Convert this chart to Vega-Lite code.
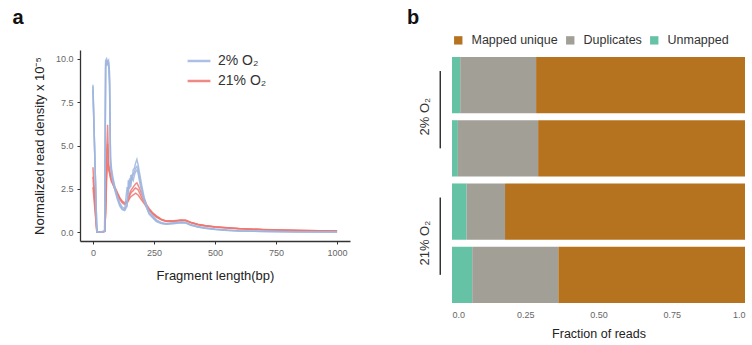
{
"$schema": "https://vega.github.io/schema/vega-lite/v6.json",
"padding": {"left": 12, "top": 8, "right": 5, "bottom": 5},
"spacing": 57,
"resolve": {"scale": {"color": "independent", "x": "independent", "y": "independent"}, "legend": {"color": "independent"}},
"config": {"font": "Liberation Sans", "view": {"stroke": null}, "axis": {"grid": false}},
"datasets": {
"lines": [
{"s":"r1","c":"21% O₂","x":0,"y":3.75},{"s":"r1","c":"21% O₂","x":16,"y":0.03},{"s":"r1","c":"21% O₂","x":30,"y":0.01},{"s":"r1","c":"21% O₂","x":48,"y":0.06},{"s":"r1","c":"21% O₂","x":52,"y":1.5},{"s":"r1","c":"21% O₂","x":56,"y":4.5},{"s":"r1","c":"21% O₂","x":60,"y":6.2},{"s":"r1","c":"21% O₂","x":64,"y":3.9},{"s":"r1","c":"21% O₂","x":68,"y":3.7},{"s":"r1","c":"21% O₂","x":72,"y":3.3},{"s":"r1","c":"21% O₂","x":76,"y":3.1},{"s":"r1","c":"21% O₂","x":80,"y":3.0},{"s":"r1","c":"21% O₂","x":90,"y":2.6},{"s":"r1","c":"21% O₂","x":100,"y":2.3},{"s":"r1","c":"21% O₂","x":110,"y":2.0},{"s":"r1","c":"21% O₂","x":120,"y":1.8},{"s":"r1","c":"21% O₂","x":130,"y":1.7},{"s":"r1","c":"21% O₂","x":140,"y":1.8},{"s":"r1","c":"21% O₂","x":145,"y":2.0},{"s":"r1","c":"21% O₂","x":150,"y":2.2},{"s":"r1","c":"21% O₂","x":155,"y":2.4},{"s":"r1","c":"21% O₂","x":160,"y":2.5},{"s":"r1","c":"21% O₂","x":165,"y":2.6},{"s":"r1","c":"21% O₂","x":170,"y":2.7},{"s":"r1","c":"21% O₂","x":175,"y":2.8},{"s":"r1","c":"21% O₂","x":180,"y":2.85},{"s":"r1","c":"21% O₂","x":185,"y":2.7},{"s":"r1","c":"21% O₂","x":190,"y":2.55},{"s":"r1","c":"21% O₂","x":200,"y":2.2},{"s":"r1","c":"21% O₂","x":210,"y":1.9},{"s":"r1","c":"21% O₂","x":220,"y":1.6},{"s":"r1","c":"21% O₂","x":230,"y":1.38},{"s":"r1","c":"21% O₂","x":245,"y":1.12},{"s":"r1","c":"21% O₂","x":260,"y":0.95},{"s":"r1","c":"21% O₂","x":280,"y":0.76},{"s":"r1","c":"21% O₂","x":300,"y":0.66},{"s":"r1","c":"21% O₂","x":330,"y":0.66},{"s":"r1","c":"21% O₂","x":360,"y":0.71},{"s":"r1","c":"21% O₂","x":380,"y":0.7},{"s":"r1","c":"21% O₂","x":400,"y":0.58},{"s":"r1","c":"21% O₂","x":430,"y":0.46},{"s":"r1","c":"21% O₂","x":460,"y":0.39},{"s":"r1","c":"21% O₂","x":500,"y":0.32},{"s":"r1","c":"21% O₂","x":550,"y":0.27},{"s":"r1","c":"21% O₂","x":600,"y":0.22},{"s":"r1","c":"21% O₂","x":700,"y":0.16},{"s":"r1","c":"21% O₂","x":850,"y":0.11},{"s":"r1","c":"21% O₂","x":1000,"y":0.08},
{"s":"r2","c":"21% O₂","x":0,"y":2.6},{"s":"r2","c":"21% O₂","x":16,"y":0.02},{"s":"r2","c":"21% O₂","x":30,"y":0.0},{"s":"r2","c":"21% O₂","x":48,"y":0.05},{"s":"r2","c":"21% O₂","x":52,"y":1.0},{"s":"r2","c":"21% O₂","x":56,"y":3.0},{"s":"r2","c":"21% O₂","x":60,"y":4.0},{"s":"r2","c":"21% O₂","x":64,"y":3.6},{"s":"r2","c":"21% O₂","x":68,"y":3.4},{"s":"r2","c":"21% O₂","x":72,"y":3.1},{"s":"r2","c":"21% O₂","x":76,"y":2.9},{"s":"r2","c":"21% O₂","x":80,"y":2.8},{"s":"r2","c":"21% O₂","x":90,"y":2.5},{"s":"r2","c":"21% O₂","x":100,"y":2.2},{"s":"r2","c":"21% O₂","x":110,"y":1.9},{"s":"r2","c":"21% O₂","x":120,"y":1.7},{"s":"r2","c":"21% O₂","x":130,"y":1.6},{"s":"r2","c":"21% O₂","x":140,"y":1.7},{"s":"r2","c":"21% O₂","x":145,"y":1.8},{"s":"r2","c":"21% O₂","x":150,"y":1.95},{"s":"r2","c":"21% O₂","x":155,"y":2.05},{"s":"r2","c":"21% O₂","x":160,"y":2.1},{"s":"r2","c":"21% O₂","x":165,"y":2.15},{"s":"r2","c":"21% O₂","x":170,"y":2.2},{"s":"r2","c":"21% O₂","x":175,"y":2.25},{"s":"r2","c":"21% O₂","x":180,"y":2.2},{"s":"r2","c":"21% O₂","x":185,"y":2.15},{"s":"r2","c":"21% O₂","x":190,"y":2.05},{"s":"r2","c":"21% O₂","x":200,"y":1.85},{"s":"r2","c":"21% O₂","x":210,"y":1.65},{"s":"r2","c":"21% O₂","x":220,"y":1.45},{"s":"r2","c":"21% O₂","x":230,"y":1.28},{"s":"r2","c":"21% O₂","x":245,"y":1.05},{"s":"r2","c":"21% O₂","x":260,"y":0.88},{"s":"r2","c":"21% O₂","x":280,"y":0.72},{"s":"r2","c":"21% O₂","x":300,"y":0.63},{"s":"r2","c":"21% O₂","x":330,"y":0.63},{"s":"r2","c":"21% O₂","x":360,"y":0.68},{"s":"r2","c":"21% O₂","x":380,"y":0.67},{"s":"r2","c":"21% O₂","x":400,"y":0.56},{"s":"r2","c":"21% O₂","x":430,"y":0.44},{"s":"r2","c":"21% O₂","x":460,"y":0.37},{"s":"r2","c":"21% O₂","x":500,"y":0.3},{"s":"r2","c":"21% O₂","x":550,"y":0.25},{"s":"r2","c":"21% O₂","x":600,"y":0.2},{"s":"r2","c":"21% O₂","x":700,"y":0.15},{"s":"r2","c":"21% O₂","x":850,"y":0.1},{"s":"r2","c":"21% O₂","x":1000,"y":0.07},
{"s":"r3","c":"21% O₂","x":0,"y":3.2},{"s":"r3","c":"21% O₂","x":16,"y":0.03},{"s":"r3","c":"21% O₂","x":30,"y":0.01},{"s":"r3","c":"21% O₂","x":48,"y":0.05},{"s":"r3","c":"21% O₂","x":52,"y":1.2},{"s":"r3","c":"21% O₂","x":56,"y":3.8},{"s":"r3","c":"21% O₂","x":60,"y":5.1},{"s":"r3","c":"21% O₂","x":64,"y":3.7},{"s":"r3","c":"21% O₂","x":68,"y":3.5},{"s":"r3","c":"21% O₂","x":72,"y":3.2},{"s":"r3","c":"21% O₂","x":76,"y":3.0},{"s":"r3","c":"21% O₂","x":80,"y":2.85},{"s":"r3","c":"21% O₂","x":90,"y":2.5},{"s":"r3","c":"21% O₂","x":100,"y":2.2},{"s":"r3","c":"21% O₂","x":110,"y":1.95},{"s":"r3","c":"21% O₂","x":120,"y":1.75},{"s":"r3","c":"21% O₂","x":130,"y":1.65},{"s":"r3","c":"21% O₂","x":140,"y":1.75},{"s":"r3","c":"21% O₂","x":145,"y":1.9},{"s":"r3","c":"21% O₂","x":150,"y":2.1},{"s":"r3","c":"21% O₂","x":155,"y":2.25},{"s":"r3","c":"21% O₂","x":160,"y":2.35},{"s":"r3","c":"21% O₂","x":165,"y":2.4},{"s":"r3","c":"21% O₂","x":170,"y":2.5},{"s":"r3","c":"21% O₂","x":175,"y":2.55},{"s":"r3","c":"21% O₂","x":180,"y":2.5},{"s":"r3","c":"21% O₂","x":185,"y":2.45},{"s":"r3","c":"21% O₂","x":190,"y":2.3},{"s":"r3","c":"21% O₂","x":200,"y":2.0},{"s":"r3","c":"21% O₂","x":210,"y":1.75},{"s":"r3","c":"21% O₂","x":220,"y":1.5},{"s":"r3","c":"21% O₂","x":230,"y":1.32},{"s":"r3","c":"21% O₂","x":245,"y":1.08},{"s":"r3","c":"21% O₂","x":260,"y":0.9},{"s":"r3","c":"21% O₂","x":280,"y":0.74},{"s":"r3","c":"21% O₂","x":300,"y":0.64},{"s":"r3","c":"21% O₂","x":330,"y":0.64},{"s":"r3","c":"21% O₂","x":360,"y":0.69},{"s":"r3","c":"21% O₂","x":380,"y":0.69},{"s":"r3","c":"21% O₂","x":400,"y":0.57},{"s":"r3","c":"21% O₂","x":430,"y":0.45},{"s":"r3","c":"21% O₂","x":460,"y":0.38},{"s":"r3","c":"21% O₂","x":500,"y":0.31},{"s":"r3","c":"21% O₂","x":550,"y":0.26},{"s":"r3","c":"21% O₂","x":600,"y":0.21},{"s":"r3","c":"21% O₂","x":700,"y":0.15},{"s":"r3","c":"21% O₂","x":850,"y":0.1},{"s":"r3","c":"21% O₂","x":1000,"y":0.07},
{"s":"b1","c":"2% O₂","x":0,"y":8.5},{"s":"b1","c":"2% O₂","x":16,"y":0.03},{"s":"b1","c":"2% O₂","x":30,"y":0.0},{"s":"b1","c":"2% O₂","x":48,"y":0.08},{"s":"b1","c":"2% O₂","x":52,"y":9.9},{"s":"b1","c":"2% O₂","x":56,"y":10.0},{"s":"b1","c":"2% O₂","x":60,"y":9.8},{"s":"b1","c":"2% O₂","x":64,"y":9.9},{"s":"b1","c":"2% O₂","x":68,"y":9.2},{"s":"b1","c":"2% O₂","x":72,"y":4.3},{"s":"b1","c":"2% O₂","x":76,"y":3.7},{"s":"b1","c":"2% O₂","x":80,"y":3.3},{"s":"b1","c":"2% O₂","x":90,"y":2.6},{"s":"b1","c":"2% O₂","x":100,"y":2.1},{"s":"b1","c":"2% O₂","x":110,"y":1.7},{"s":"b1","c":"2% O₂","x":120,"y":1.45},{"s":"b1","c":"2% O₂","x":130,"y":1.35},{"s":"b1","c":"2% O₂","x":140,"y":1.6},{"s":"b1","c":"2% O₂","x":145,"y":3.0},{"s":"b1","c":"2% O₂","x":150,"y":2.5},{"s":"b1","c":"2% O₂","x":155,"y":3.3},{"s":"b1","c":"2% O₂","x":160,"y":3.0},{"s":"b1","c":"2% O₂","x":165,"y":3.6},{"s":"b1","c":"2% O₂","x":170,"y":3.7},{"s":"b1","c":"2% O₂","x":175,"y":4.0},{"s":"b1","c":"2% O₂","x":180,"y":4.2},{"s":"b1","c":"2% O₂","x":185,"y":3.9},{"s":"b1","c":"2% O₂","x":190,"y":3.5},{"s":"b1","c":"2% O₂","x":200,"y":2.7},{"s":"b1","c":"2% O₂","x":210,"y":2.0},{"s":"b1","c":"2% O₂","x":220,"y":1.55},{"s":"b1","c":"2% O₂","x":230,"y":1.2},{"s":"b1","c":"2% O₂","x":245,"y":0.95},{"s":"b1","c":"2% O₂","x":260,"y":0.72},{"s":"b1","c":"2% O₂","x":280,"y":0.56},{"s":"b1","c":"2% O₂","x":300,"y":0.5},{"s":"b1","c":"2% O₂","x":330,"y":0.55},{"s":"b1","c":"2% O₂","x":360,"y":0.6},{"s":"b1","c":"2% O₂","x":380,"y":0.57},{"s":"b1","c":"2% O₂","x":400,"y":0.45},{"s":"b1","c":"2% O₂","x":430,"y":0.33},{"s":"b1","c":"2% O₂","x":460,"y":0.26},{"s":"b1","c":"2% O₂","x":500,"y":0.19},{"s":"b1","c":"2% O₂","x":550,"y":0.13},{"s":"b1","c":"2% O₂","x":600,"y":0.09},{"s":"b1","c":"2% O₂","x":700,"y":0.06},{"s":"b1","c":"2% O₂","x":850,"y":0.03},{"s":"b1","c":"2% O₂","x":1000,"y":0.02},
{"s":"b2","c":"2% O₂","x":0,"y":8.2},{"s":"b2","c":"2% O₂","x":16,"y":0.05},{"s":"b2","c":"2% O₂","x":30,"y":0.02},{"s":"b2","c":"2% O₂","x":48,"y":0.06},{"s":"b2","c":"2% O₂","x":52,"y":9.5},{"s":"b2","c":"2% O₂","x":56,"y":9.7},{"s":"b2","c":"2% O₂","x":60,"y":9.9},{"s":"b2","c":"2% O₂","x":64,"y":9.6},{"s":"b2","c":"2% O₂","x":68,"y":8.5},{"s":"b2","c":"2% O₂","x":72,"y":4.0},{"s":"b2","c":"2% O₂","x":76,"y":3.5},{"s":"b2","c":"2% O₂","x":80,"y":3.1},{"s":"b2","c":"2% O₂","x":90,"y":2.5},{"s":"b2","c":"2% O₂","x":100,"y":2.0},{"s":"b2","c":"2% O₂","x":110,"y":1.6},{"s":"b2","c":"2% O₂","x":120,"y":1.35},{"s":"b2","c":"2% O₂","x":130,"y":1.3},{"s":"b2","c":"2% O₂","x":140,"y":2.6},{"s":"b2","c":"2% O₂","x":145,"y":2.2},{"s":"b2","c":"2% O₂","x":150,"y":3.1},{"s":"b2","c":"2% O₂","x":155,"y":2.8},{"s":"b2","c":"2% O₂","x":160,"y":3.3},{"s":"b2","c":"2% O₂","x":165,"y":3.3},{"s":"b2","c":"2% O₂","x":170,"y":3.5},{"s":"b2","c":"2% O₂","x":175,"y":3.7},{"s":"b2","c":"2% O₂","x":180,"y":3.8},{"s":"b2","c":"2% O₂","x":185,"y":3.6},{"s":"b2","c":"2% O₂","x":190,"y":3.2},{"s":"b2","c":"2% O₂","x":200,"y":2.5},{"s":"b2","c":"2% O₂","x":210,"y":1.9},{"s":"b2","c":"2% O₂","x":220,"y":1.45},{"s":"b2","c":"2% O₂","x":230,"y":1.1},{"s":"b2","c":"2% O₂","x":245,"y":0.88},{"s":"b2","c":"2% O₂","x":260,"y":0.66},{"s":"b2","c":"2% O₂","x":280,"y":0.52},{"s":"b2","c":"2% O₂","x":300,"y":0.48},{"s":"b2","c":"2% O₂","x":330,"y":0.52},{"s":"b2","c":"2% O₂","x":360,"y":0.57},{"s":"b2","c":"2% O₂","x":380,"y":0.55},{"s":"b2","c":"2% O₂","x":400,"y":0.43},{"s":"b2","c":"2% O₂","x":430,"y":0.31},{"s":"b2","c":"2% O₂","x":460,"y":0.24},{"s":"b2","c":"2% O₂","x":500,"y":0.17},{"s":"b2","c":"2% O₂","x":550,"y":0.12},{"s":"b2","c":"2% O₂","x":600,"y":0.08},{"s":"b2","c":"2% O₂","x":700,"y":0.05},{"s":"b2","c":"2% O₂","x":850,"y":0.03},{"s":"b2","c":"2% O₂","x":1000,"y":0.02},
{"s":"b3","c":"2% O₂","x":0,"y":8.4},{"s":"b3","c":"2% O₂","x":16,"y":0.04},{"s":"b3","c":"2% O₂","x":30,"y":0.01},{"s":"b3","c":"2% O₂","x":48,"y":0.05},{"s":"b3","c":"2% O₂","x":52,"y":9.7},{"s":"b3","c":"2% O₂","x":56,"y":9.9},{"s":"b3","c":"2% O₂","x":60,"y":9.6},{"s":"b3","c":"2% O₂","x":64,"y":9.8},{"s":"b3","c":"2% O₂","x":68,"y":8.8},{"s":"b3","c":"2% O₂","x":72,"y":3.8},{"s":"b3","c":"2% O₂","x":76,"y":3.4},{"s":"b3","c":"2% O₂","x":80,"y":3.0},{"s":"b3","c":"2% O₂","x":90,"y":2.4},{"s":"b3","c":"2% O₂","x":100,"y":1.9},{"s":"b3","c":"2% O₂","x":110,"y":1.5},{"s":"b3","c":"2% O₂","x":120,"y":1.3},{"s":"b3","c":"2% O₂","x":130,"y":1.25},{"s":"b3","c":"2% O₂","x":140,"y":1.5},{"s":"b3","c":"2% O₂","x":145,"y":2.5},{"s":"b3","c":"2% O₂","x":150,"y":2.8},{"s":"b3","c":"2% O₂","x":155,"y":2.6},{"s":"b3","c":"2% O₂","x":160,"y":3.2},{"s":"b3","c":"2% O₂","x":165,"y":3.0},{"s":"b3","c":"2% O₂","x":170,"y":3.3},{"s":"b3","c":"2% O₂","x":175,"y":3.5},{"s":"b3","c":"2% O₂","x":180,"y":3.6},{"s":"b3","c":"2% O₂","x":185,"y":3.4},{"s":"b3","c":"2% O₂","x":190,"y":3.0},{"s":"b3","c":"2% O₂","x":200,"y":2.3},{"s":"b3","c":"2% O₂","x":210,"y":1.8},{"s":"b3","c":"2% O₂","x":220,"y":1.4},{"s":"b3","c":"2% O₂","x":230,"y":1.05},{"s":"b3","c":"2% O₂","x":245,"y":0.82},{"s":"b3","c":"2% O₂","x":260,"y":0.62},{"s":"b3","c":"2% O₂","x":280,"y":0.5},{"s":"b3","c":"2% O₂","x":300,"y":0.46},{"s":"b3","c":"2% O₂","x":330,"y":0.5},{"s":"b3","c":"2% O₂","x":360,"y":0.55},{"s":"b3","c":"2% O₂","x":380,"y":0.53},{"s":"b3","c":"2% O₂","x":400,"y":0.41},{"s":"b3","c":"2% O₂","x":430,"y":0.3},{"s":"b3","c":"2% O₂","x":460,"y":0.23},{"s":"b3","c":"2% O₂","x":500,"y":0.16},{"s":"b3","c":"2% O₂","x":550,"y":0.11},{"s":"b3","c":"2% O₂","x":600,"y":0.08},{"s":"b3","c":"2% O₂","x":700,"y":0.05},{"s":"b3","c":"2% O₂","x":850,"y":0.02},{"s":"b3","c":"2% O₂","x":1000,"y":0.02}
],
"bars": [
{"sample":"2% O₂ rep1","cat":"Unmapped","o":1,"frac":0.028},
{"sample":"2% O₂ rep1","cat":"Duplicates","o":2,"frac":0.259},
{"sample":"2% O₂ rep1","cat":"Mapped unique","o":3,"frac":0.713},
{"sample":"2% O₂ rep2","cat":"Unmapped","o":1,"frac":0.020},
{"sample":"2% O₂ rep2","cat":"Duplicates","o":2,"frac":0.274},
{"sample":"2% O₂ rep2","cat":"Mapped unique","o":3,"frac":0.706},
{"sample":"21% O₂ rep1","cat":"Unmapped","o":1,"frac":0.050},
{"sample":"21% O₂ rep1","cat":"Duplicates","o":2,"frac":0.131},
{"sample":"21% O₂ rep1","cat":"Mapped unique","o":3,"frac":0.819},
{"sample":"21% O₂ rep2","cat":"Unmapped","o":1,"frac":0.069},
{"sample":"21% O₂ rep2","cat":"Duplicates","o":2,"frac":0.294},
{"sample":"21% O₂ rep2","cat":"Mapped unique","o":3,"frac":0.637}
],
"groups": [
{"g":"2% O₂","from":"2% O₂ rep1","to":"2% O₂ rep2"},
{"g":"21% O₂","from":"21% O₂ rep1","to":"21% O₂ rep2"}
]
},
"hconcat": [
{
"title": {"text": "a", "anchor": "start", "frame": "bounds", "fontSize": 20, "fontWeight": "bold", "color": "#111", "offset": 20, "dx": -21},
"width": 270,
"height": 191,
"data": {"name": "lines"},
"mark": {"type": "line", "strokeWidth": 1.5, "opacity": 0.85},
"encoding": {
"x": {"field": "x", "type": "quantitative", "scale": {"domain": [-53, 1053], "nice": false, "zero": false},
"axis": {"values": [0, 250, 500, 750, 1000], "format": "d", "title": "Fragment length(bp)", "titleFontSize": 13, "titleFontWeight": "normal", "titleColor": "#222", "titlePadding": 12, "labelFontSize": 9, "labelColor": "#666", "labelPadding": 4, "domainColor": "#333", "domainWidth": 1.3, "tickColor": "#333", "tickSize": 3}},
"y": {"field": "y", "type": "quantitative", "scale": {"domain": [-0.5, 10.5], "nice": false, "zero": false},
"axis": {"values": [0, 2.5, 5, 7.5, 10], "format": ".1f", "title": "Normalized read density x 10⁻⁵", "titleFontSize": 13, "titleFontWeight": "normal", "titleColor": "#222", "titlePadding": 9, "labelFontSize": 9, "labelColor": "#666", "labelPadding": 4, "domainColor": "#333", "domainWidth": 1.3, "tickColor": "#333", "tickSize": 3}},
"color": {"field": "c", "type": "nominal", "scale": {"domain": ["2% O₂", "21% O₂"], "range": ["#9FB5DE", "#EE7570"]},
"legend": {"orient": "none", "legendX": 106, "legendY": -2, "title": null, "symbolType": "stroke", "symbolSize": 520, "symbolStrokeWidth": 2.5, "labelFontSize": 14, "labelColor": "#333", "rowPadding": 0, "labelOffset": 6}},
"detail": {"field": "s", "type": "nominal"}
}
},
{
"title": {"text": "b", "anchor": "start", "frame": "bounds", "fontSize": 20, "fontWeight": "bold", "color": "#111", "offset": 6, "dx": -12},
"width": 293,
"height": 253,
"layer": [
{
"data": {"name": "bars"},
"mark": {"type": "bar"},
"encoding": {
"y": {"field": "sample", "type": "nominal", "scale": {"domain": ["2% O₂ rep1", "2% O₂ rep2", "21% O₂ rep1", "21% O₂ rep2"], "paddingInner": 0.11, "paddingOuter": 0.055, "align": 1}, "axis": null},
"x": {"field": "frac", "type": "quantitative", "stack": "zero", "scale": {"domain": [0, 1], "nice": false},
"axis": {"values": [0, 0.25, 0.5, 0.75, 1], "labelExpr": "datum.value == 0 ? '0.0' : datum.value == 1 ? '1.0' : format(datum.value, '.2f')", "title": "Fraction of reads", "titleFontSize": 12.5, "titleFontWeight": "normal", "titleColor": "#222", "titlePadding": 8, "labelFontSize": 9, "labelColor": "#666", "labelPadding": 7, "domain": false, "ticks": false}},
"color": {"field": "cat", "type": "nominal", "scale": {"domain": ["Mapped unique", "Duplicates", "Unmapped"], "range": ["#B6731F", "#A29F97", "#66C2A5"]},
"legend": {"orient": "top", "direction": "horizontal", "title": null, "symbolType": "square", "symbolSize": 70, "symbolOpacity": 1, "labelFontSize": 12.5, "labelColor": "#333", "labelOffset": 7, "columnPadding": 6, "offset": 3}},
"order": {"field": "o", "type": "quantitative"}
}
},
{
"data": {"name": "groups"},
"mark": {"type": "rule", "strokeWidth": 1.5, "color": "#333"},
"encoding": {
"x": {"datum": -0.04, "type": "quantitative"},
"y": {"field": "from", "type": "nominal", "bandPosition": 0.25},
"y2": {"field": "to"}
}
},
{
"data": {"name": "groups"},
"mark": {"type": "text", "angle": 270, "fontSize": 13, "color": "#333", "align": "center", "baseline": "middle"},
"encoding": {
"x": {"datum": -0.092, "type": "quantitative"},
"y": {"field": "from", "type": "nominal", "bandPosition": 1.06},
"text": {"field": "g", "type": "nominal"}
}
}
]
}
]
}
